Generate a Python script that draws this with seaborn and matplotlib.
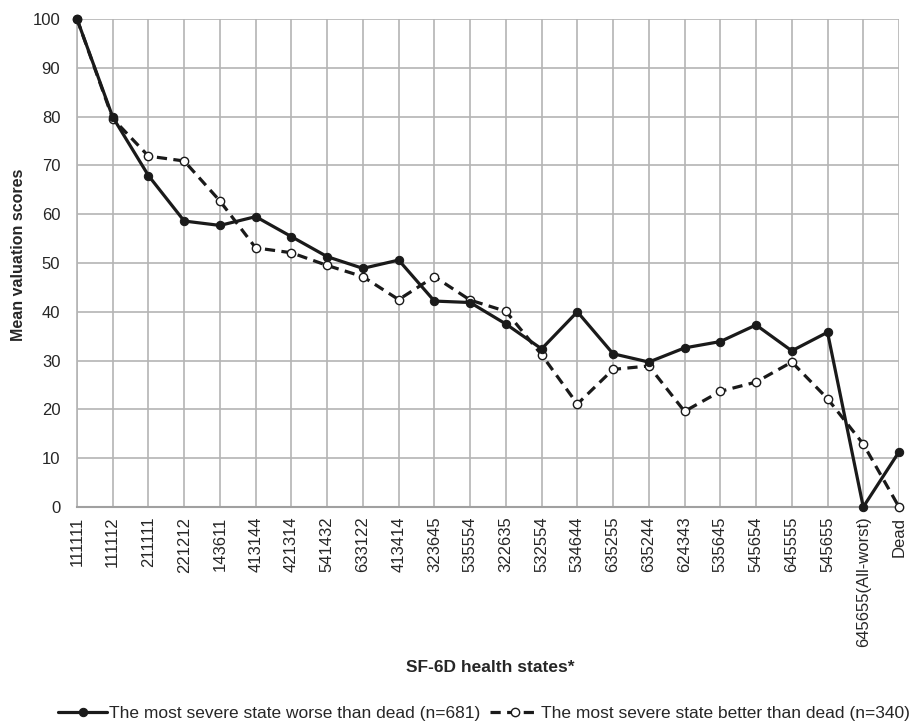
import matplotlib
matplotlib.use("Agg")
import matplotlib.pyplot as plt
import seaborn as sns
import pandas as pd

states = ["111111", "111112", "211111", "221212", "143611", "413144", "421314",
          "541432", "633122", "413414", "323645", "535554", "322635", "532554",
          "534644", "635255", "635244", "624343", "535645", "545654", "645555",
          "545655", "645655(All-worst)", "Dead"]
worse_than_dead = [100, 79.9, 67.9, 58.6, 57.7, 59.5, 55.4, 51.3, 48.9, 50.6,
                   42.2, 41.9, 37.5, 32.4, 40.0, 31.4, 29.7, 32.6, 33.9, 37.3,
                   32.0, 35.8, 0, 11.3]
better_than_dead = [100, 79.6, 71.9, 70.9, 62.7, 53.1, 52.1, 49.5, 47.2, 42.5,
                    47.2, 42.4, 40.1, 31.2, 21.1, 28.2, 28.9, 19.6, 23.7, 25.6,
                    29.7, 22.2, 12.9, 0]
series_names = ["The most severe state worse than dead (n=681)",
                "The most severe state better than dead (n=340)"]

sns.set_theme(style="white")
plt.rcParams['font.family'] = ['Liberation Sans', 'DejaVu Sans']

df = pd.DataFrame({"state": states * 2,
                   "pos": list(range(len(states))) * 2,
                   "score": worse_than_dead + better_than_dead,
                   "group": [series_names[0]] * len(states) + [series_names[1]] * len(states)})

fig = plt.figure(figsize=(9.17, 7.25), dpi=100)
ax = fig.add_axes([77/917, 1 - 507/725, (899 - 77)/917, (507 - 19)/725])

sns.lineplot(data=df[df.group == series_names[0]], x="pos", y="score", ax=ax,
             sort=False, color="#1a1a1a", linewidth=2.3, marker="o",
             markersize=6, markerfacecolor="#1a1a1a", markeredgecolor="#1a1a1a",
             label=series_names[0], clip_on=False, zorder=4)
sns.lineplot(data=df[df.group == series_names[1]], x="pos", y="score", ax=ax,
             sort=False, color="#1a1a1a", linewidth=2.3, linestyle=(0, (3.2, 2.0)),
             marker="o", markersize=6, markerfacecolor="white",
             markeredgecolor="#1a1a1a", markeredgewidth=1.0,
             label=series_names[1], clip_on=False, zorder=3)

ax.set_xlim(0, len(states) - 1)
ax.set_ylim(0, 100)
ax.set_yticks(range(0, 101, 10))
ax.set_xticks(range(len(states)))
ax.set_xticklabels(states, rotation=90, fontsize=12, va="top")
ax.tick_params(axis="y", labelsize=12, length=0, pad=12)
ax.tick_params(axis="x", length=4, color="#a8a8a8", width=1, pad=3, direction="out")
ax.grid(True, color="#b4b4b4", linewidth=1.2)
ax.set_axisbelow(True)
for s in ["top", "right"]:
    ax.spines[s].set_visible(False)
ax.spines["left"].set_color("#b4b4b4")
ax.spines["bottom"].set_color("#a0a0a0")
ax.spines["bottom"].set_linewidth(1.5)
ax.spines["left"].set_linewidth(1.2)

ax.set_xlabel("")
ax.set_ylabel("")
fig.text(19/917, 1 - 255/725, "Mean valuation scores", rotation=90, ha="center",
         va="center", fontsize=11.5, fontweight="bold")
fig.text(490/917, 1 - 668/725, "SF-6D health states*", ha="center", va="center",
         fontsize=12.5, fontweight="bold")

handles, labels = ax.get_legend_handles_labels()
if ax.legend_:
    ax.legend_.remove()
fig.legend(handles, labels, loc="center", bbox_to_anchor=(484/917, 1 - 713/725),
           ncol=2, frameon=False, fontsize=12.5, handlelength=2.8,
           handletextpad=0.1, columnspacing=0.6, borderpad=0, borderaxespad=0)

fig.savefig("out.png", dpi=100)
